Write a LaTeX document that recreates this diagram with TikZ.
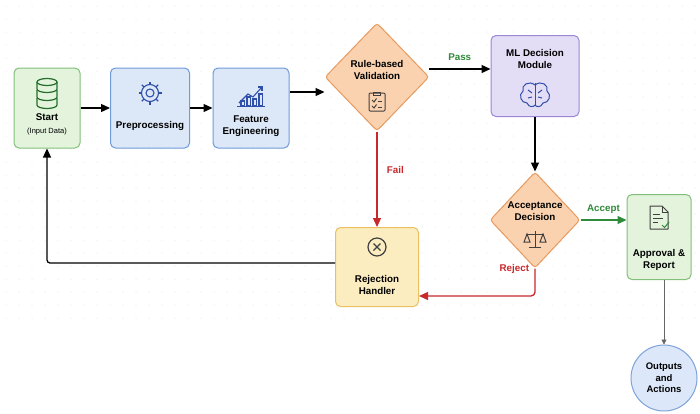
\documentclass[tikz,border=0pt]{standalone}
\usepackage{fontspec}
\setmainfont{Liberation Sans}
\usetikzlibrary{shapes.geometric,arrows.meta}
\definecolor{gF}{HTML}{E3F3DC}\definecolor{gD}{HTML}{82C07A}
\definecolor{bF}{HTML}{DCE8F8}\definecolor{bD}{HTML}{6F9BD8}
\definecolor{oF}{HTML}{FAD2B0}\definecolor{oD}{HTML}{E89A5E}
\definecolor{pF}{HTML}{E4DDF6}\definecolor{pD}{HTML}{9A87D6}
\definecolor{yF}{HTML}{FCEDC0}\definecolor{yD}{HTML}{EBC060}
\definecolor{cF}{HTML}{DCE8FA}\definecolor{cD}{HTML}{7FA3D8}
\definecolor{rL}{HTML}{C8282C}\definecolor{gL}{HTML}{2E8B3A}
\definecolor{icB}{HTML}{2F4FA8}
\tikzset{
 box/.style={draw, line width=1pt, rounded corners=5pt, align=center, inner sep=0pt},
 dia/.style={draw=oD, fill=oF, line width=1pt, diamond, rounded corners=3pt, align=center, inner sep=0pt},
 arr/.style={line width=1.3pt, -{Triangle[length=9pt,width=8pt]}},
 lab/.style={font=\bfseries\fontsize{9.8}{12}\selectfont},
}
\begin{document}
\begin{tikzpicture}[x=1pt,y=-1pt]
\useasboundingbox (0,0) rectangle (700,413);
\fill[white] (0,0) rectangle (700,413);
\foreach \i in {0,...,53}{\foreach \j in {0,...,24}{\fill[black!14] (6+13*\i,6+13*\j) circle (0.5);}}
% nodes
\node[box, draw=gD, fill=gF, minimum width=66pt, minimum height=80pt] (start) at (47,108) {};
\node[box, draw=bD, fill=bF, minimum width=79pt, minimum height=80pt] (pre) at (150,108) {};
\node[box, draw=bD, fill=bF, minimum width=76pt, minimum height=80pt] (feat) at (251,108) {};
\node[dia, minimum width=104pt, minimum height=108pt] (rule) at (377,77) {};
\node[box, draw=pD, fill=pF, minimum width=88pt, minimum height=81pt] (ml) at (535,76) {};
\node[dia, minimum width=90pt, minimum height=96pt] (acc) at (535,220) {};
\node[box, draw=gD, fill=gF, minimum width=64pt, minimum height=85pt] (app) at (659,237) {};
\node[box, draw=yD, fill=yF, minimum width=83pt, minimum height=79pt] (rej) at (377,267) {};
\node[circle, draw=cD, fill=cF, line width=1pt, minimum size=66pt, align=center, inner sep=0pt, font=\fontsize{9.5}{11.5}\selectfont\bfseries] (out) at (664,378) {Outputs\\and\\Actions};
% texts
\node[lab, align=center] (t1) at (47,124) {Start\\[1pt]{\fontsize{7.5}{9}\selectfont\mdseries (Input Data)}};
\node[lab] (t2) at (150,126) {Preprocessing};
\node[lab, align=center] (t3) at (251,126) {Feature\\Engineering};
\node[lab, align=center] (t4) at (377,70) {Rule-based\\Validation};
\node[lab, align=center] (t5) at (535,59) {ML Decision\\Module};
\node[lab, align=center] (t6) at (535,211) {Acceptance\\Decision};
\node[lab, align=center] (t7) at (659,260) {Approval \&\\Report};
\node[lab, align=center] (t8) at (377,285) {Rejection\\Handler};
% icons
\begin{scope}[draw=gL!80!black, line width=1.2pt]
\foreach \k in {0,1,2}{\draw (37,82+\k*8) -- (37,89+\k*8) arc[start angle=180,end angle=360,x radius=10,y radius=-3.5] -- (57,82+\k*8);}
\draw (47,82) ellipse (10 and 3.5);
\end{scope}
\begin{scope}[draw=icB, line width=1.1pt]
\draw (150,93) circle (4);
\draw (150,93) circle (8.5);
\foreach \a in {0,45,...,315}{\draw (150,93) ++(\a:8.5) -- ++(\a:3);}
\draw (239,103) -- (248,94) -- (253,97) -- (262,87);
\draw (258,87) -- (262,87) -- (262,91);
\foreach \x/\h in {241/5,247/9,253/7,259/12}{\draw (\x,106) rectangle (\x+3.5,106-\h);}
\draw (237,106.5) -- (265,106.5);
\end{scope}
\begin{scope}[draw=black!75, line width=1pt]
\draw[rounded corners=1pt] (369,93) rectangle (385,111);
\draw (373.5,92) rectangle (380.5,95.5);
\draw (372,100) -- (374,102) -- (376.5,98.5); \draw (378,101) -- (382,101);
\draw (372,106) -- (374,108) -- (376.5,104.5); \draw (378,107) -- (382,107);
\draw (535,231) -- (535,247); \draw (526,234) -- (544,234); \draw (529,247) -- (541,247);
\draw (527,234) -- (524,242) -- (530,242) -- cycle;
\draw (543,234) -- (540,242) -- (546,242) -- cycle;
\draw[line width=1.2pt] (377,247) circle (9);
\draw[line width=1.2pt] (373.5,243.5) -- (380.5,250.5) (380.5,243.5) -- (373.5,250.5);
\draw[line join=round] (650,206) -- (662,206) -- (668,212) -- (668,229) -- (650,229) -- cycle;
\draw (662,206) -- (662,212) -- (668,212);
\draw (653,214) -- (660,214) (653,218) -- (663,218) (653,222) -- (658,222);
\end{scope}
\draw[gL, line width=1pt] (662,225) -- (664.5,227.5) -- (669,222);
\begin{scope}[draw=icB, line width=1pt]
\draw (535,83) -- (535,105);
\draw (535,85) .. controls (529,80) and (521,85) .. (523,91) .. controls (518,95) and (521,103) .. (527,103) .. controls (529,108) and (534,107) .. (535,105);
\draw (535,85) .. controls (541,80) and (549,85) .. (547,91) .. controls (552,95) and (549,103) .. (543,103) .. controls (541,108) and (536,107) .. (535,105);
\draw (528,90) -- (532,93) (542,90) -- (538,93) (528,98) -- (532,97) (542,98) -- (538,97);
\end{scope}
% connectors
\draw[arr] (start.east) -- (pre.west);
\draw[arr] (pre.east) -- (feat.west);
\coordinate (fe) at (feat.east |- 0,92);
\draw[arr] (fe) -- (fe -| rule.west);
\coordinate (rp) at (429,69);
\draw[arr] (rp) -- (rp -| ml.west) node[midway, above=4pt, lab, text=gL] {Pass};
\draw[arr, rL] (rule.south) -- (rej.north) node[pos=0.4, right=6pt, lab] {Fail};
\draw[arr] (ml.south) -- (acc.north);
\coordinate (ae) at (acc.east);
\draw[arr, gL] (ae) -- (ae -| app.west) node[midway, above=2pt, lab] {Accept};
\coordinate (rr) at (rej.east |- 0,296);
\draw[arr, rL, rounded corners=4pt] (acc.south) |- (rr) node[pos=0.2, above left=2pt, lab] {Reject};
\coordinate (rl) at (rej.west |- 0,263);
\draw[arr, rounded corners=3pt] (rl) -| (start.south);
\coordinate (as) at (664,280);
\draw[black!60, line width=0.6pt, -{Triangle[length=5pt,width=5pt]}] (as) -- (out.north);
\end{tikzpicture}
\end{document}
